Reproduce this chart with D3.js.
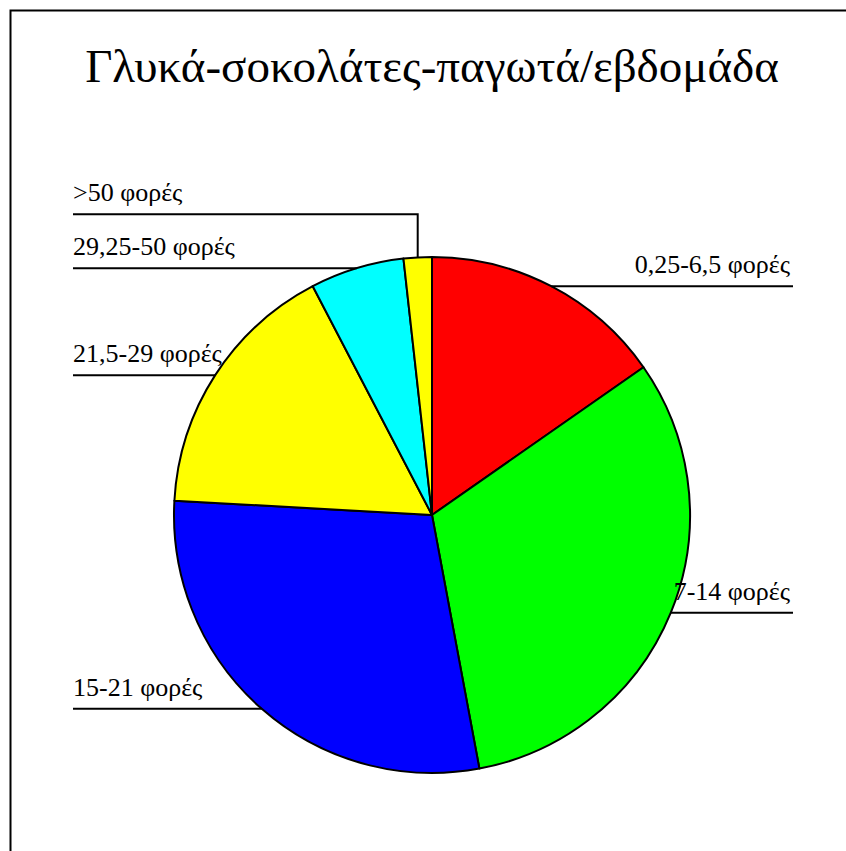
<!DOCTYPE html>
<html>
<head>
<meta charset="utf-8">
<script src="https://cdn.jsdelivr.net/npm/d3@7"></script>
<style>
  html, body { margin: 0; padding: 0; background: #fff; }
  svg { display: block; }
</style>
</head>
<body>
<svg id="chart" width="846" height="851"></svg>
<script>
// Weekly consumption of sweets / chocolates / ice cream
const title = "Γλυκά-σοκολάτες-παγωτά/εβδομάδα";
const categories = [
  "0,25-6,5 φορές",
  "7-14 φορές",
  "15-21 φορές",
  "21,5-29 φορές",
  "29,25-50 φορές",
  ">50 φορές"
];
const values = [26, 54, 49, 28, 10, 3];
const colors = ["#ff0000", "#00ff00", "#0000ff", "#ffff00", "#00ffff", "#ffff00"];

const W = 846, H = 851;
const cx = 432, cy = 515, R = 258;
const leftX = 73, rightX = 793;
const labelGap = 54;   // minimum vertical distance between leader lines on one side
const font = "'Liberation Serif', 'Times New Roman', serif";

const svg = d3.select("#chart");

// outer frame (open to the right and bottom)
svg.append("path")
  .attr("d", `M10.5,${H + 5} V10.5 H${W + 5}`)
  .attr("fill", "none")
  .attr("stroke", "#000")
  .attr("stroke-width", 2);

svg.append("text")
  .attr("x", cx)
  .attr("y", 82)
  .attr("text-anchor", "middle")
  .attr("font-family", font)
  .attr("font-size", 47)
  .attr("fill", "#000")
  .text(title);

const pie = d3.pie().sort(null).value(d => d.value);
const arcs = pie(categories.map((c, i) => ({ name: c, value: values[i], color: colors[i] })));
const arc = d3.arc().innerRadius(0).outerRadius(R);

const g = svg.append("g").attr("transform", `translate(${cx},${cy})`);
g.selectAll("path.slice")
  .data(arcs)
  .enter().append("path")
  .attr("class", "slice")
  .attr("d", arc)
  .attr("fill", d => d.data.color)
  .attr("stroke", "#000")
  .attr("stroke-width", 2)
  .attr("stroke-linejoin", "round");

// label anchors: mid-angle point on the rim
const labels = arcs.map(d => {
  const a = (d.startAngle + d.endAngle) / 2;
  const px = cx + R * Math.sin(a);
  const py = cy - R * Math.cos(a);
  return { d, px, py, right: px >= cx, y: py };
});

// push labels apart on each side, working upward from the lowest
[true, false].forEach(side => {
  const list = labels.filter(l => l.right === side).sort((a, b) => b.py - a.py);
  for (let i = 1; i < list.length; i++) {
    if (list[i - 1].y - list[i].y < labelGap) list[i].y = list[i - 1].y - labelGap;
  }
});

const lg = svg.append("g");
labels.forEach(l => {
  const pts = l.right
    ? [[l.px, l.py], [l.px, l.y], [rightX, l.y]]
    : [[l.px, l.py], [l.px, l.y], [leftX, l.y]];
  lg.append("path")
    .attr("d", d3.line()(pts))
    .attr("fill", "none")
    .attr("stroke", "#000")
    .attr("stroke-width", 2);
  lg.append("text")
    .attr("x", l.right ? rightX - 3 : leftX)
    .attr("y", l.y - 13)
    .attr("text-anchor", l.right ? "end" : "start")
    .attr("font-family", font)
    .attr("font-size", 26)
    .attr("fill", "#000")
    .text(l.d.data.name);
});
</script>
</body>
</html>
